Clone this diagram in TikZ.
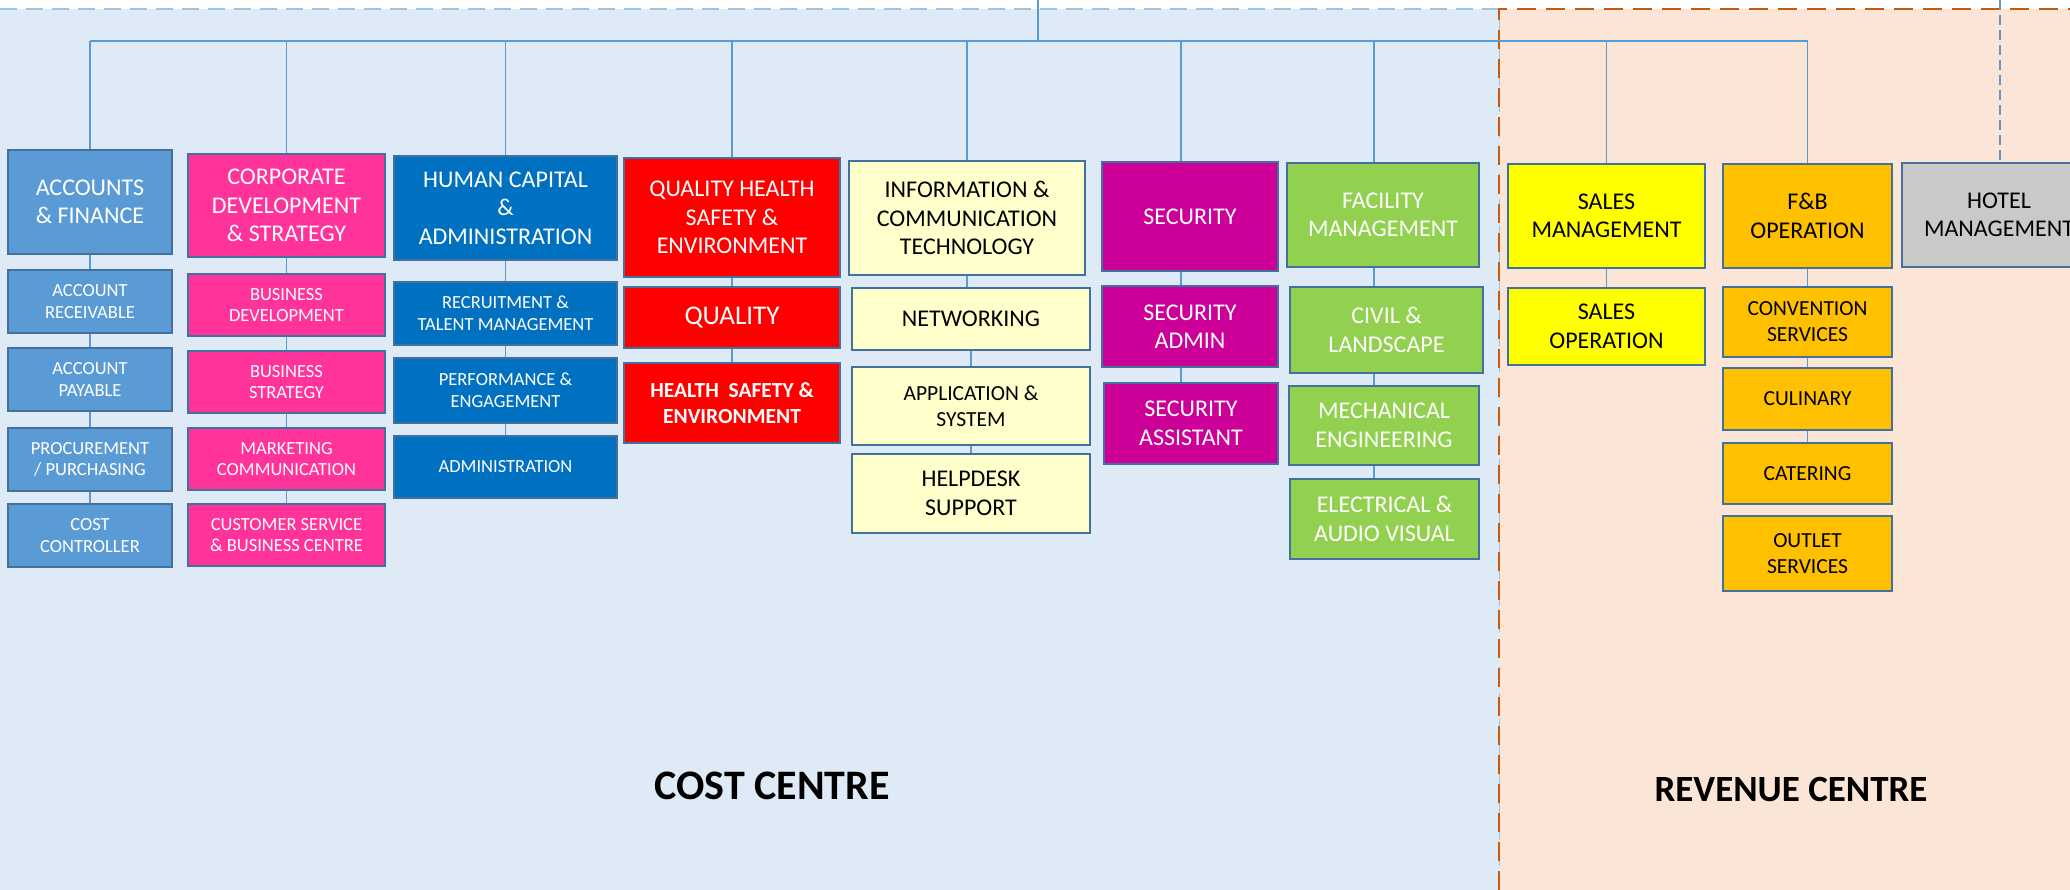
\documentclass[tikz,border=0pt]{standalone}
\usepackage{fontspec}
\setmainfont{Carlito}
\definecolor{costbg}{HTML}{DEEBF7}
\definecolor{costedge}{HTML}{9DC3E6}
\definecolor{revbg}{HTML}{FBE5D6}
\definecolor{revedge}{HTML}{C55A11}
\definecolor{boxedge}{HTML}{41719C}
\definecolor{linkblue}{HTML}{5B9BD5}
\definecolor{accblue}{HTML}{5B9BD5}
\definecolor{cdspink}{HTML}{FF3399}
\definecolor{hcablue}{HTML}{0070C0}
\definecolor{qhsered}{HTML}{FF0000}
\definecolor{ictyellow}{HTML}{FFFFCC}
\definecolor{secpurple}{HTML}{CC0099}
\definecolor{fmgreen}{HTML}{92D050}
\definecolor{salesyellow}{HTML}{FFFF00}
\definecolor{fnborange}{HTML}{FFC000}
\definecolor{hotelgrey}{HTML}{C9C9C9}
\begin{document}
\begin{tikzpicture}[x=1pt,y=-1pt,
		box/.style={draw=boxedge,line width=2.5pt,inner sep=0pt,align=center,text=white},
		dark/.style={text=black},
		big/.style={font=\fontsize{24}{28.5}\selectfont},
		mid/.style={font=\fontsize{21.5}{26}\selectfont},
		small/.style={font=\fontsize{18.5}{21.7}\selectfont},
		link/.style={draw=linkblue,line width=1.3pt}]
		\useasboundingbox (0,0) rectangle (2070,890);
		% cost centre / revenue centre
		\fill[costbg] (0,9) rectangle (1500,890);
		\draw[costedge,line width=2pt,dash pattern=on 17pt off 9pt] (0,9) -- (1500,9) -- (1500,890);
		\fill[revbg] (1500,9) rectangle (2070,890);
		\draw[revedge,line width=2.5pt,dash pattern=on 19pt off 10pt] (1499,890) -- (1499,9) -- (2070,9);
		
		\node[box,fill=accblue,big,minimum width=164,minimum height=104] (acc) at (90,202) {ACCOUNTS\\\& FINANCE};
		\node[box,fill=accblue,small,minimum width=164,minimum height=63] (accrec) at (90,301.5) {ACCOUNT\\RECEIVABLE};
		\node[box,fill=accblue,small,minimum width=164,minimum height=63] (accpay) at (90,379.5) {ACCOUNT\\PAYABLE};
		\node[box,fill=accblue,small,minimum width=164,minimum height=63] (accproc) at (90,459.5) {PROCUREMENT\\/ PURCHASING};
		\node[box,fill=accblue,small,minimum width=164,minimum height=63] (acccost) at (90,535.5) {COST\\CONTROLLER};
		
		\node[box,fill=cdspink,big,minimum width=197,minimum height=103] (cds) at (286.5,205.5) {CORPORATE\\DEVELOPMENT\\\& STRATEGY};
		\node[box,fill=cdspink,small,minimum width=197,minimum height=62] (bizdev) at (286.5,305) {BUSINESS\\DEVELOPMENT};
		\node[box,fill=cdspink,small,minimum width=197,minimum height=62] (bizstr) at (286.5,382) {BUSINESS\\STRATEGY};
		\node[box,fill=cdspink,small,minimum width=197,minimum height=62] (mktcom) at (286.5,459) {MARKETING\\COMMUNICATION};
		\node[box,fill=cdspink,small,minimum width=197,minimum height=62] (custsvc) at (286.5,535) {CUSTOMER SERVICE\\\& BUSINESS CENTRE};
		
		\node[box,fill=hcablue,big,minimum width=223,minimum height=104] (hca) at (505.5,208) {HUMAN CAPITAL\\\&\\ADMINISTRATION};
		\node[box,fill=hcablue,small,minimum width=223,minimum height=63] (recruit) at (505.5,313.5) {RECRUITMENT \&\\TALENT MANAGEMENT};
		\node[box,fill=hcablue,small,minimum width=223,minimum height=65] (perf) at (505.5,390.5) {PERFORMANCE \&\\ENGAGEMENT};
		\node[box,fill=hcablue,small,minimum width=223,minimum height=62] (admin) at (505.5,467) {ADMINISTRATION};
		
		\node[box,fill=qhsered,big,minimum width=216,minimum height=119] (qhse) at (732,217.5) {QUALITY HEALTH\\SAFETY \&\\ENVIRONMENT};
		\node[box,fill=qhsered,font=\fontsize{27}{32}\selectfont,minimum width=216,minimum height=61] (quality) at (732,317.5) {QUALITY};
		\node[box,fill=qhsered,mid,minimum width=216,minimum height=80] (hse) at (732,403) {\bfseries HEALTH\ \ SAFETY \&\\\bfseries ENVIRONMENT};
		
		\node[box,dark,fill=ictyellow,big,minimum width=236,minimum height=114] (ict) at (967,218) {INFORMATION \&\\COMMUNICATION\\TECHNOLOGY};
		\node[box,dark,fill=ictyellow,big,minimum width=238,minimum height=62] (network) at (971,319) {NETWORKING};
		\node[box,dark,fill=ictyellow,mid,minimum width=238,minimum height=78] (appsys) at (971,406) {APPLICATION \&\\SYSTEM};
		\node[box,dark,fill=ictyellow,big,minimum width=238,minimum height=79] (helpdesk) at (971,493.5) {HELPDESK\\SUPPORT};
		
		\node[box,fill=secpurple,big,minimum width=176,minimum height=109] (sec) at (1190,216.5) {SECURITY};
		\node[box,fill=secpurple,big,minimum width=176,minimum height=81] (secadm) at (1190,326.5) {SECURITY\\ADMIN};
		\node[box,fill=secpurple,big,minimum width=174,minimum height=81] (secast) at (1191,423.5) {SECURITY\\ASSISTANT};
		
		\node[box,fill=fmgreen,big,minimum width=192,minimum height=104] (fm) at (1383,215) {FACILITY\\MANAGEMENT};
		\node[box,fill=fmgreen,big,minimum width=193,minimum height=86] (civil) at (1386.5,330) {CIVIL \&\\LANDSCAPE};
		\node[box,fill=fmgreen,big,minimum width=190,minimum height=79] (mech) at (1384,425.5) {MECHANICAL\\ENGINEERING};
		\node[box,fill=fmgreen,big,minimum width=189,minimum height=80] (elec) at (1384.5,519) {ELECTRICAL \&\\AUDIO VISUAL};
		
		\node[box,dark,fill=salesyellow,big,minimum width=197,minimum height=104] (sales) at (1606.5,216) {SALES\\MANAGEMENT};
		\node[box,dark,fill=salesyellow,big,minimum width=197,minimum height=77] (salesop) at (1606.5,326.5) {SALES\\OPERATION};
		
		\node[box,dark,fill=fnborange,big,minimum width=169,minimum height=104] (fnb) at (1807.5,216) {F\&B\\OPERATION};
		\node[box,dark,fill=fnborange,mid,minimum width=169,minimum height=70] (conv) at (1807.5,322) {CONVENTION\\SERVICES};
		\node[box,dark,fill=fnborange,mid,minimum width=169,minimum height=62] (culinary) at (1807.5,399) {CULINARY};
		\node[box,dark,fill=fnborange,mid,minimum width=169,minimum height=61] (catering) at (1807.5,473.5) {CATERING};
		\node[box,dark,fill=fnborange,mid,minimum width=169,minimum height=75] (outlet) at (1807.5,553.5) {OUTLET\\SERVICES};
		
		\node[box,dark,fill=hotelgrey,big,minimum width=194,minimum height=104] (hotel) at (1999,215) {HOTEL\\MANAGEMENT};
		
		% connectors
		\coordinate (root) at (1038,0);
		\coordinate (busL) at (90,41);
		\coordinate (busR) at (1807.5,41);
		\coordinate (hroot) at (2000,0);
		\coordinate (seccol) at (1181,0);
		\coordinate (fmcol) at (1374,0);
		\draw[link] (busL) -- (busR);
		\draw[link] (root) -- (root |- busL);
		\foreach \n in {acc,cds,hca,qhse,ict,sales,fnb}
			\draw[link] (\n.north) -- (\n.north |- busL);
		\foreach \a/\b in {acc/accrec,accrec/accpay,accpay/accproc,accproc/acccost,
			cds/bizdev,bizdev/bizstr,bizstr/mktcom,mktcom/custsvc,
			hca/recruit,recruit/perf,perf/admin,qhse/quality,quality/hse,
			ict/network,network/appsys,appsys/helpdesk,
			sales/salesop,fnb/conv,conv/culinary,culinary/catering}
			\draw[link] (\a.south) -- (\a.south |- \b.north);
		% security and facility lines sit left of the box centres
		\draw[link] (seccol |- busL) -- (seccol |- sec.north) (seccol |- sec.south) -- (seccol |- secadm.north) (seccol |- secadm.south) -- (seccol |- secast.north);
		\draw[link] (fmcol |- busL) -- (fmcol |- fm.north) (fmcol |- fm.south) -- (fmcol |- civil.north) (fmcol |- civil.south) -- (fmcol |- mech.north) (fmcol |- mech.south) -- (fmcol |- elec.north);
		\draw[link,dash pattern=on 10pt off 5pt] (hroot) -- (hroot |- hotel.north);
		
		\node[font=\bfseries\fontsize{42}{50}\selectfont] (cost) at (772,786) {COST CENTRE};
		\node[font=\bfseries\fontsize{37}{44}\selectfont] (revenue) at (1791,789) {REVENUE CENTRE};
		
		\end{tikzpicture}
\end{document}
